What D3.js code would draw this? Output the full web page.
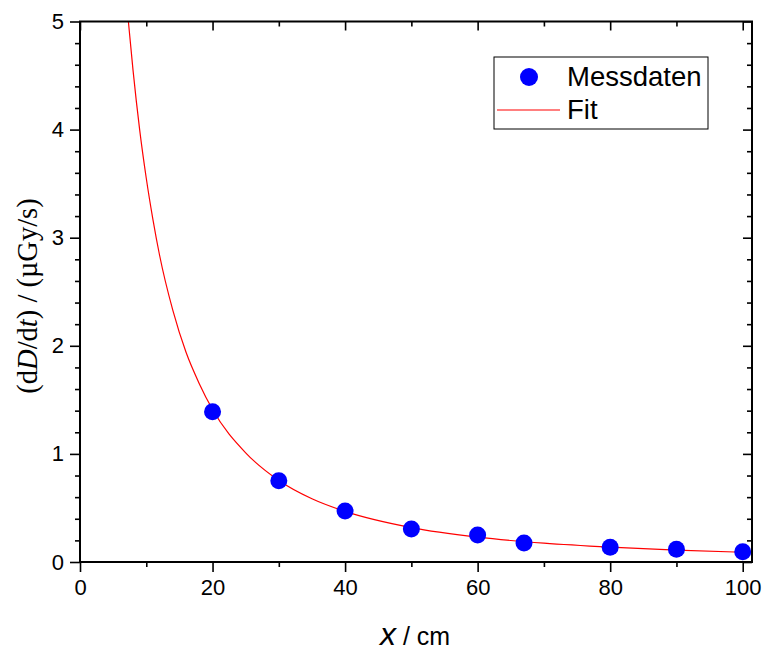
<!DOCTYPE html>
<html><head><meta charset="utf-8">
<script src="https://cdn.jsdelivr.net/npm/d3@7"></script>
<style>body{margin:0;background:#fff}</style>
</head><body>
<svg id="c" width="766" height="653"></svg>
<script>
// Measured data
const measX = [20, 30, 40, 50, 60, 67, 80, 90, 100];
const measY = [1.39, 0.752, 0.472, 0.305, 0.25, 0.176, 0.136, 0.117, 0.095];
// Fit curve
const fitX = [7.3, 8, 9, 10, 11, 12, 14, 16, 18, 20, 25, 30, 35, 40, 50, 60, 70, 80, 90, 100, 101.4];
const fitY = [5.0, 4.55, 4.0, 3.55, 3.17, 2.84, 2.33, 1.94, 1.65, 1.41, 1.01, 0.754, 0.585, 0.468, 0.318, 0.230, 0.174, 0.137, 0.110, 0.0904, 0.088];
// Ticks
const xMajor = [0, 20, 40, 60, 80, 100];
const xMinor = [10, 30, 50, 70, 90];
const yMajor = [0, 1, 2, 3, 4, 5];
const legendLabels = ["Messdaten", "Fit"];

const L = 80, R = 752, T = 21.5, B = 562;
const svg = d3.select("#c");
const x = d3.scaleLinear().domain([0, 101.4]).range([L, R]);
const y = d3.scaleLinear().domain([0, 5]).range([B, T]);
const yMinor = y.ticks(25).filter(v => !yMajor.includes(v));

const sans = "'Liberation Sans', Arial, sans-serif";
const serif = "'Liberation Serif', 'Times New Roman', serif";
const TF = 22;

function styleAxis(g, fs) {
  g.select(".domain").remove();
  g.selectAll(".tick line").attr("stroke", "#000").attr("stroke-width", 1.6);
  g.selectAll(".tick text").attr("font-family", sans).attr("font-size", fs).attr("fill", "#000");
}
// bottom
svg.append("g").attr("transform", `translate(0,${B})`)
  .call(d3.axisBottom(x).tickValues(xMajor).tickSize(10).tickPadding(7).tickFormat(d3.format("d")))
  .call(g => styleAxis(g, TF));
svg.append("g").attr("transform", `translate(0,${B})`)
  .call(d3.axisBottom(x).tickValues(xMinor).tickSize(5).tickFormat(""))
  .call(g => styleAxis(g, TF));
// top (inward)
svg.append("g").attr("transform", `translate(0,${T})`)
  .call(d3.axisTop(x).tickValues(xMajor).tickSize(-9).tickFormat(""))
  .call(g => styleAxis(g, TF));
svg.append("g").attr("transform", `translate(0,${T})`)
  .call(d3.axisTop(x).tickValues(xMinor).tickSize(-5).tickFormat(""))
  .call(g => styleAxis(g, TF));
// left
svg.append("g").attr("transform", `translate(${L},0)`)
  .call(d3.axisLeft(y).tickValues(yMajor).tickSize(10).tickPadding(6).tickFormat(d3.format("d")))
  .call(g => styleAxis(g, TF));
svg.append("g").attr("transform", `translate(${L},0)`)
  .call(d3.axisLeft(y).tickValues(yMinor).tickSize(5).tickFormat(""))
  .call(g => styleAxis(g, TF));
// right (inward)
svg.append("g").attr("transform", `translate(${R},0)`)
  .call(d3.axisRight(y).tickValues(yMajor).tickSize(-9).tickFormat(""))
  .call(g => styleAxis(g, TF));
svg.append("g").attr("transform", `translate(${R},0)`)
  .call(d3.axisRight(y).tickValues(yMinor).tickSize(-5).tickFormat(""))
  .call(g => styleAxis(g, TF));

// clip
svg.append("clipPath").attr("id", "clip").append("rect")
  .attr("x", L).attr("y", T).attr("width", R - L).attr("height", B - T);

// fit line
const fitData = fitX.map((v, i) => [v, fitY[i]]);
svg.append("path").datum(fitData)
  .attr("clip-path", "url(#clip)")
  .attr("fill", "none").attr("stroke", "#ff0000").attr("stroke-width", 1.2)
  .attr("d", d3.line().x(d => x(d[0])).y(d => y(d[1])).curve(d3.curveMonotoneX));

// points
svg.append("g").selectAll("circle").data(measX.map((v, i) => [v, measY[i]]))
  .join("circle")
  .attr("cx", d => x(d[0])).attr("cy", d => y(d[1])).attr("r", 8.5)
  .attr("fill", "#0000ff");

// frame
svg.append("rect").attr("x", L).attr("y", T).attr("width", R - L).attr("height", B - T)
  .attr("fill", "none").attr("stroke", "#000").attr("stroke-width", 2);

// axis titles
const xt = svg.append("text").attr("x", 380).attr("y", 645).attr("font-family", sans).attr("fill", "#000");
xt.append("tspan").attr("font-style", "italic").attr("font-size", 32).text("x");
xt.append("tspan").attr("font-size", 25).text(" / cm");

const yt = svg.append("text").attr("transform", "translate(27,296) rotate(-90)")
  .attr("text-anchor", "middle").attr("dy", "0.35em")
  .attr("font-family", serif).attr("font-size", 28.5).attr("fill", "#000");
yt.append("tspan").text("(d");
yt.append("tspan").attr("font-style", "italic").text("D");
yt.append("tspan").text("/d");
yt.append("tspan").attr("font-style", "italic").text("t");
yt.append("tspan").text(") / (µGy/s)");

// legend
const lg = svg.append("g");
lg.append("rect").attr("x", 494).attr("y", 57).attr("width", 214).attr("height", 72)
  .attr("fill", "#fff").attr("stroke", "#000").attr("stroke-width", 1);
lg.append("circle").attr("cx", 529).attr("cy", 77).attr("r", 9).attr("fill", "#0000ff");
lg.append("line").attr("x1", 497).attr("x2", 560).attr("y1", 110).attr("y2", 110)
  .attr("stroke", "#ff0000").attr("stroke-width", 1.2);
lg.append("text").attr("x", 567).attr("y", 86).attr("font-family", sans).attr("font-size", 27.5)
  .attr("fill", "#000").text(legendLabels[0]);
lg.append("text").attr("x", 567).attr("y", 119).attr("font-family", sans).attr("font-size", 27.5)
  .attr("fill", "#000").text(legendLabels[1]);
</script>
</body></html>
